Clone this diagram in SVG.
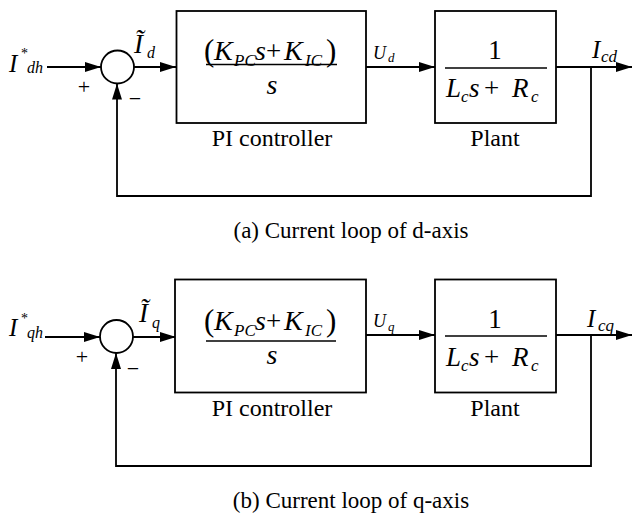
<svg xmlns="http://www.w3.org/2000/svg" width="632" height="515" viewBox="0 0 632 515">
<defs>
<marker id="arr" markerWidth="16" markerHeight="10" refX="16" refY="5" orient="auto" markerUnits="userSpaceOnUse">
<path d="M0,0 L16,5 L0,10 Z" fill="#000"/>
</marker>
</defs>
<style>
.ln{fill:none;stroke:#000;stroke-width:1.8}
.box{fill:#fff;stroke:#000;stroke-width:1.8}
.frac{stroke:#000;stroke-width:1.5}
text{font-family:'Liberation Serif','DejaVu Serif','Times New Roman',serif;fill:#000}
.m{font-style:italic}
</style>
<rect width="632" height="515" fill="#fff"/>

<!-- ===== (a) d-axis ===== -->
<g id="connectors-d">
<line class="ln" x1="47" y1="67" x2="101" y2="67" marker-end="url(#arr)"/>
<line class="ln" x1="134" y1="67" x2="176" y2="67" marker-end="url(#arr)"/>
<line class="ln" x1="366" y1="67" x2="435" y2="67" marker-end="url(#arr)"/>
<line class="ln" x1="556" y1="67" x2="632" y2="67" marker-end="url(#arr)"/>
<polyline class="ln" points="591,67 591,196 117,196 117,83.5" marker-end="url(#arr)"/>
</g>
<g id="sum-d">
<circle class="box" cx="117.5" cy="67" r="16.5"/>
<text x="84" y="94" font-size="22" text-anchor="middle">+</text>
<text x="135" y="106" font-size="22" text-anchor="middle">−</text>
</g>
<g id="input-d">
<text class="m" x="9" y="72" font-size="25">I</text>
<text x="21" y="58" font-size="14">*</text>
<text class="m" x="27" y="73" font-size="16">dh</text>
</g>
<g id="error-d">
<text class="m" x="134" y="53" font-size="27">Ĩ</text>
<text class="m" x="147" y="58" font-size="16">d</text>
</g>
<g id="pi-d">
<rect class="box" x="176.5" y="11" width="189.5" height="112"/>
<text x="0" y="0"><tspan x="204" y="61" font-size="31">(</tspan><tspan class="m" x="214" y="60" font-size="28">K</tspan><tspan class="m" x="234" y="66" font-size="17">PC</tspan><tspan class="m" x="255" y="60" font-size="28">s</tspan><tspan x="266" y="60" font-size="27">+</tspan><tspan class="m" x="284" y="60" font-size="28">K</tspan><tspan class="m" x="305" y="66" font-size="17">IC</tspan><tspan x="326" y="61" font-size="31">)</tspan></text>
<line class="frac" x1="206" y1="64.5" x2="337" y2="64.5"/>
<text class="m" x="272" y="94" font-size="28" text-anchor="middle">s</text>
<text x="272" y="146" font-size="24" text-anchor="middle">PI controller</text>
</g>
<g id="ud">
<text class="m" x="373" y="59" font-size="18">U</text>
<text class="m" x="388" y="62" font-size="13">d</text>
</g>
<g id="plant-d">
<rect class="box" x="435" y="11" width="121" height="112"/>
<text x="495" y="59" font-size="27" text-anchor="middle">1</text>
<line class="frac" x1="445" y1="68" x2="547" y2="68"/>
<text x="0" y="0"><tspan class="m" x="446" y="97" font-size="27">L</tspan><tspan class="m" x="461" y="102" font-size="17">c</tspan><tspan class="m" x="469" y="97" font-size="27">s</tspan><tspan x="484" y="97" font-size="27">+</tspan><tspan class="m" x="512" y="97" font-size="27">R</tspan><tspan class="m" x="531" y="102" font-size="17">c</tspan></text>
<text x="495" y="146" font-size="24" text-anchor="middle">Plant</text>
</g>
<g id="output-d">
<text class="m" x="592" y="58" font-size="25">I</text>
<text class="m" x="601" y="62" font-size="17">cd</text>
</g>
<text x="351" y="238" font-size="23" text-anchor="middle">(a) Current loop of d-axis</text>

<!-- ===== (b) q-axis ===== -->
<g id="connectors-q">
<line class="ln" x1="45" y1="337" x2="100" y2="337" marker-end="url(#arr)"/>
<line class="ln" x1="133" y1="337" x2="176" y2="337" marker-end="url(#arr)"/>
<line class="ln" x1="366" y1="335" x2="435" y2="335" marker-end="url(#arr)"/>
<line class="ln" x1="556" y1="335" x2="632" y2="335" marker-end="url(#arr)"/>
<polyline class="ln" points="591,335 591,466 116,466 116,353" marker-end="url(#arr)"/>
</g>
<g id="sum-q">
<circle class="box" cx="116.5" cy="336.5" r="16.5"/>
<text x="82" y="364" font-size="22" text-anchor="middle">+</text>
<text x="133" y="376" font-size="22" text-anchor="middle">−</text>
</g>
<g id="input-q">
<text class="m" x="9" y="336" font-size="25">I</text>
<text x="21" y="323" font-size="14">*</text>
<text class="m" x="27" y="338" font-size="16">qh</text>
</g>
<g id="error-q">
<text class="m" x="139" y="322" font-size="27">Ĩ</text>
<text class="m" x="152" y="328" font-size="16">q</text>
</g>
<g id="pi-q">
<rect class="box" x="175" y="279.5" width="191" height="113"/>
<text x="0" y="0"><tspan x="204" y="331" font-size="31">(</tspan><tspan class="m" x="214" y="330" font-size="28">K</tspan><tspan class="m" x="234" y="336" font-size="17">PC</tspan><tspan class="m" x="255" y="330" font-size="28">s</tspan><tspan x="266" y="330" font-size="27">+</tspan><tspan class="m" x="284" y="330" font-size="28">K</tspan><tspan class="m" x="305" y="336" font-size="17">IC</tspan><tspan x="326" y="331" font-size="31">)</tspan></text>
<line class="frac" x1="206" y1="341" x2="336" y2="341"/>
<text class="m" x="272" y="364" font-size="28" text-anchor="middle">s</text>
<text x="272" y="416" font-size="24" text-anchor="middle">PI controller</text>
</g>
<g id="uq">
<text class="m" x="373" y="327" font-size="18">U</text>
<text class="m" x="388" y="331" font-size="13">q</text>
</g>
<g id="plant-q">
<rect class="box" x="435" y="279.5" width="121" height="113"/>
<text x="495" y="328" font-size="27" text-anchor="middle">1</text>
<line class="frac" x1="445" y1="336" x2="547" y2="336"/>
<text x="0" y="0"><tspan class="m" x="446" y="366" font-size="27">L</tspan><tspan class="m" x="461" y="371" font-size="17">c</tspan><tspan class="m" x="469" y="366" font-size="27">s</tspan><tspan x="484" y="366" font-size="27">+</tspan><tspan class="m" x="512" y="366" font-size="27">R</tspan><tspan class="m" x="531" y="371" font-size="17">c</tspan></text>
<text x="495" y="416" font-size="24" text-anchor="middle">Plant</text>
</g>
<g id="output-q">
<text class="m" x="587" y="327" font-size="25">I</text>
<text class="m" x="598" y="331" font-size="17">cq</text>
</g>
<text x="351" y="508" font-size="23" text-anchor="middle">(b) Current loop of q-axis</text>
</svg>
